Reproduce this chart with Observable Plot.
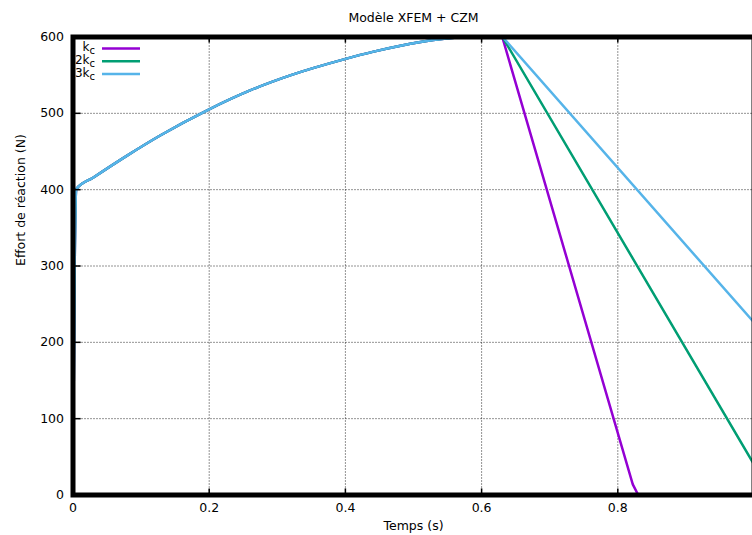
<!DOCTYPE html>
<html>
<head>
<meta charset="utf-8">
<script src="https://cdn.jsdelivr.net/npm/d3@7"></script>
<script src="https://cdn.jsdelivr.net/npm/@observablehq/plot@0.6"></script>
<style>
  html, body { margin: 0; padding: 0; background: #fff; overflow: hidden; }
  #chart { position: relative; width: 752px; height: 535px; }
</style>
</head>
<body>
<div id="chart"></div>
<script>
// Shared hardening branch (time in s, force in N)
const curveTime  = [0, 0.002, 0.005, 0.03, 0.08, 0.128, 0.197, 0.26, 0.32, 0.399, 0.44, 0.481, 0.529, 0.56, 0.6, 0.63];
const curveForce = [0, 260, 401, 416, 445, 471, 504, 530, 550, 571, 580.5, 588.5, 596, 599, 600.5, 601];

// Softening branches after the peak (start at the last point of the shared branch)
const kcTailTime  = [0.822, 0.830];
const kcTailForce = [14, 0];
const k2TailTime  = [1.0];
const k2TailForce = [40];
const k3TailTime  = [1.0];
const k3TailForce = [226];

const seriesNames  = ["k", "2k", "3k"];
const seriesSub    = ["c", "c", "c"];
const seriesColors = ["#9400d3", "#009e73", "#56b4e9"];

const xTicks = [0, 0.2, 0.4, 0.6, 0.8];
const yTicks = [0, 100, 200, 300, 400, 500, 600];
const xGrid = [0.2, 0.4, 0.6, 0.8];
const yGrid = [100, 200, 300, 400, 500];

const titleText = "Modèle XFEM + CZM";
const xLabel = "Temps (s)";
const yLabel = "Effort de réaction (N)";

const hardening = curveTime.map((t, i) => ({t, f: curveForce[i]}));
const last = hardening[hardening.length - 1];
function tail(tailT, tailF) {
  return [last].concat(tailT.map((t, i) => ({t, f: tailF[i]})));
}
const tails = [
  tail(kcTailTime, kcTailForce),
  tail(k2TailTime, k2TailForce),
  tail(k3TailTime, k3TailForce)
];

const font = "DejaVu Sans, sans-serif";

const plot = Plot.plot({
  width: 752,
  height: 535,
  marginLeft: 72.5,
  marginRight: -1.5,
  marginTop: 36.5,
  marginBottom: 40.5,
  style: { fontFamily: font, fontSize: "12.5px", color: "#000", background: "#fff", overflow: "visible" },
  x: { domain: [0, 1] },
  y: { domain: [0, 600] },
  marks: [
    Plot.gridX(xGrid, { stroke: "#000", strokeOpacity: 0.85, strokeDasharray: "1,2", strokeWidth: 1 }),
    Plot.gridY(yGrid, { stroke: "#000", strokeOpacity: 0.85, strokeDasharray: "1,2", strokeWidth: 1 }),
    ...tails.flatMap((rows, i) => [
      Plot.line(hardening, { x: "t", y: "f", stroke: seriesColors[i], strokeWidth: 2.5, curve: "monotone-x", clip: true }),
      Plot.line(rows, { x: "t", y: "f", stroke: seriesColors[i], strokeWidth: 2.5, clip: true })
    ]),
    Plot.axisX(xTicks, { tickSize: 0, tickPadding: 8, label: null, tickFormat: d => String(d), fontSize: 12.5 }),
    Plot.axisY(yTicks, { tickSize: 0, tickPadding: 9, label: null, tickFormat: d => String(d), fontSize: 12.5 }),
    Plot.ruleX(xTicks, { y1: 0, y2: 8, stroke: "#000", strokeWidth: 1.5 }),
    Plot.ruleX(xTicks, { y1: 592, y2: 600, stroke: "#000", strokeWidth: 1.5 }),
    Plot.ruleY(yTicks, { x1: 0, x2: 0.012, stroke: "#000", strokeWidth: 1.5 }),
    Plot.frame({ stroke: "#000", strokeWidth: 5 }),
    Plot.text([titleText], { frameAnchor: "top", text: d => d, dy: -24, fontSize: 12.5 }),
    Plot.text([xLabel], { frameAnchor: "bottom", text: d => d, dy: 35, fontSize: 12.5 }),
    Plot.text([yLabel], { frameAnchor: "left", text: d => d, rotate: -90, dx: -52, fontSize: 12.5 })
  ]
});

document.getElementById("chart").appendChild(plot);

// Legend (inside the top-left corner)
const svg = d3.select(plot);
const lg = svg.append("g").attr("font-family", font).attr("font-size", 12);
seriesNames.forEach((name, i) => {
  const y = 48.5 + i * 12.8;
  const t = lg.append("text")
    .attr("x", 95).attr("y", y - 1)
    .attr("text-anchor", "end")
    .attr("dy", "0.32em")
    .attr("fill", "#000");
  t.append("tspan").text(name);
  t.append("tspan").attr("dy", 3).attr("font-size", 10).text(seriesSub[i]);
  lg.append("line")
    .attr("x1", 102).attr("x2", 140)
    .attr("y1", y).attr("y2", y)
    .attr("stroke", seriesColors[i])
    .attr("stroke-width", 2.5);
});
</script>
</body>
</html>
